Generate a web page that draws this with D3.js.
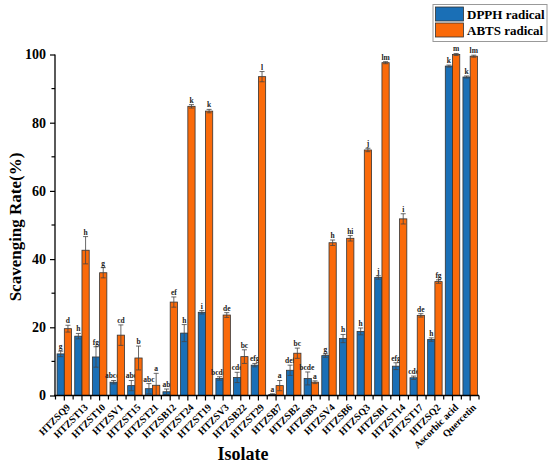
<!DOCTYPE html>
<html lang="en">
<head>
  <meta charset="UTF-8">
  <title>Scavenging Rate by Isolate</title>
  <script src="https://d3js.org/d3.v7.min.js"></script>
  <style>
    body { margin: 0; background: #fff; }
    text { font-family: "Liberation Serif", "Times New Roman", serif; font-weight: bold; }
  </style>
</head>
<body>
  <div id="chart"></div>
  <script>
    // data
    const isolates = ["HTZSQ9", "HTZST13", "HTZST10", "HTZSV1", "HTZST15", "HTZST21", "HTZSB12", "HTZST24",
      "HTZST19", "HTZSV3", "HTZSB22", "HTZST29", "HTZSB7", "HTZSB2", "HTZSB3", "HTZSV4", "HTZSB6", "HTZSQ3",
      "HTZSB1", "HTZST14", "HTZST17", "HTZSQ2", "Ascorbic acid", "Quercetin"];
    const dpph = [12.2, 17.4, 11.3, 3.9, 2.9, 2.0, 1.1, 18.3, 24.4, 5.0, 5.3, 8.9, 0.3, 7.4, 5.0, 11.7,
      16.7, 18.8, 34.6, 8.6, 5.2, 16.4, 96.6, 93.4];
    const abts = [19.6, 42.6, 36.0, 17.7, 11.0, 3.0, 27.4, 84.8, 83.4, 23.6, 11.4, 93.5, 2.9, 12.4, 3.9, 44.8,
      46.1, 72.0, 97.6, 51.8, 23.5, 33.4, 100.0, 99.5];
    const dpphErr = [0.8, 0.8, 3, 0.5, 1.5, 1.5, 0.8, 2.5, 0.5, 0.5, 1.5, 0.5, 0.2, 1.5, 1.9, 0.5,
      1.2, 1.0, 0.5, 1.0, 0.5, 0.5, 0.3, 0.3];
    const abtsErr = [1, 4, 1.5, 3, 3.5, 3.5, 1.5, 0.5, 0.5, 0.7, 2, 1.5, 1.5, 1.5, 0.4, 0.8,
      0.8, 0.5, 0.3, 1.5, 0.5, 0.5, 0.3, 0.3];
    const dpphLetters = ["g", "h", "fg", "abcd", "abc", "abc", "ab", "h", "i", "bcde", "cde", "efg", "a", "def",
      "bcde", "g", "h", "h", "j", "efg", "cde", "h", "k", "k"];
    const abtsLetters = ["d", "h", "g", "cd", "b", "a", "ef", "k", "k", "de", "bc", "l", "a", "bc", "a", "h",
      "hi", "j", "lm", "i", "de", "fg", "m", "lm"];
    const yTicks = [0, 20, 40, 60, 80, 100];
    const seriesNames = ["DPPH radical", "ABTS radical"];
    const colors = ["#1a6fb6", "#fa6a0a"];

    const W = 550, H = 466;
    const svg = d3.select("#chart").append("svg").attr("width", W).attr("height", H);

    const x = d3.scaleBand().domain(isolates).range([55.5, 479]).padding(0);
    const y = d3.scaleLinear().domain([0, 100]).range([395.5, 54.5]);
    const step = x.step();
    const bw = step * 0.41;
    const off = step * 0.09;

    const rows = isolates.map((name, i) => ({
      name,
      vals: [dpph[i], abts[i]],
      errs: [dpphErr[i], abtsErr[i]],
      letters: [dpphLetters[i], abtsLetters[i]]
    }));

    //bars
    const groups = svg.selectAll(".grp").data(rows).enter().append("g").attr("class", "grp");
    [0, 1].forEach(k => {
      groups.append("rect")
        .attr("x", d => x(d.name) + off + k * bw)
        .attr("y", d => y(d.vals[k]))
        .attr("width", bw)
        .attr("height", d => y(0) - y(d.vals[k]))
        .attr("fill", colors[k])
        .attr("stroke", "#333")
        .attr("stroke-width", 0.8);

      //error bars
      const cx = d => x(d.name) + off + k * bw + bw / 2;
      groups.append("line")
        .attr("x1", cx).attr("x2", cx)
        .attr("y1", d => y(Math.max(0, d.vals[k] - d.errs[k])))
        .attr("y2", d => y(d.vals[k] + d.errs[k]))
        .attr("stroke", "#444").attr("stroke-width", 0.8);
      [-1, 1].forEach(s => {
        groups.append("line")
          .attr("x1", d => cx(d) - 2.5).attr("x2", d => cx(d) + 2.5)
          .attr("y1", d => y(Math.max(0, d.vals[k] + s * d.errs[k])))
          .attr("y2", d => y(Math.max(0, d.vals[k] + s * d.errs[k])))
          .attr("stroke", "#444").attr("stroke-width", 0.8);
      });

      //significance letters
      groups.append("text")
        .attr("x", d => cx(d) - (d.letters[k].length > 3 ? 1 : 0))
        .attr("y", d => y(d.vals[k] + d.errs[k]) - 2)
        .attr("text-anchor", "middle")
        .attr("font-size", "7.5px")
        .attr("fill", "#222")
        .text(d => d.letters[k]);
    });

    //x axis
    svg.append("line").attr("x1", 54).attr("x2", 479).attr("y1", y(0)).attr("y2", y(0))
      .attr("stroke", "#000").attr("stroke-width", 1.3);
    svg.selectAll(".xmaj").data(isolates).enter().append("line")
      .attr("x1", d => x(d) + step / 2).attr("x2", d => x(d) + step / 2)
      .attr("y1", y(0)).attr("y2", y(0) + 5)
      .attr("stroke", "#000").attr("stroke-width", 1.2);
    svg.selectAll(".xmin").data(isolates.concat(["end"])).enter().append("line")
      .attr("x1", (d, i) => x.range()[0] + i * step).attr("x2", (d, i) => x.range()[0] + i * step)
      .attr("y1", y(0)).attr("y2", y(0) + 4)
      .attr("stroke", "#000").attr("stroke-width", 1.2);
    svg.selectAll(".xlab").data(isolates).enter().append("text")
      .attr("transform", d => `translate(${x(d) + step / 2 + 4},${y(0) + 10}) rotate(-45)`)
      .attr("text-anchor", "end")
      .attr("dy", "0.35em")
      .attr("font-size", "10px")
      .text(d => d);

    //y axis
    svg.append("line").attr("x1", 55).attr("x2", 55).attr("y1", y(0)).attr("y2", y(100))
      .attr("stroke", "#000").attr("stroke-width", 1.3);
    const yAxis = d3.axisLeft(y).tickValues(yTicks).tickSize(5).tickPadding(4);
    const ya = svg.append("g").attr("transform", "translate(55,0)").call(yAxis);
    ya.select(".domain").remove();
    ya.selectAll("line").attr("stroke-width", 1.2);
    ya.selectAll("text").attr("font-size", "14px").attr("font-family", null);
    svg.selectAll(".ymin").data(d3.range(10, 100, 20)).enter().append("line")
      .attr("x1", 51.5).attr("x2", 55).attr("y1", d => y(d)).attr("y2", d => y(d))
      .attr("stroke", "#000").attr("stroke-width", 1.2);

    //axis titles
    svg.append("text")
      .attr("transform", `translate(21,${(y(0) + y(100)) / 2 + 2}) rotate(-90)`)
      .attr("text-anchor", "middle")
      .attr("font-size", "17px")
      .text("Scavenging Rate(%)");
    svg.append("text")
      .attr("x", 243).attr("y", 460)
      .attr("text-anchor", "middle")
      .attr("font-size", "18px")
      .text("Isolate");

    //legend
    const lg = svg.append("g");
    lg.append("rect").attr("x", 433).attr("y", 4.5).attr("width", 114).attr("height", 37)
      .attr("fill", "#fff").attr("stroke", "#999").attr("stroke-width", 1);
    seriesNames.forEach((s, i) => {
      lg.append("rect").attr("x", 435.5).attr("y", 7 + i * 16).attr("width", 28).attr("height", 14)
        .attr("fill", colors[i]).attr("stroke", "#333").attr("stroke-width", 0.8);
      lg.append("text").attr("x", 467).attr("y", 19 + i * 16).attr("font-size", "13px").text(s);
    });
  </script>
</body>
</html>
